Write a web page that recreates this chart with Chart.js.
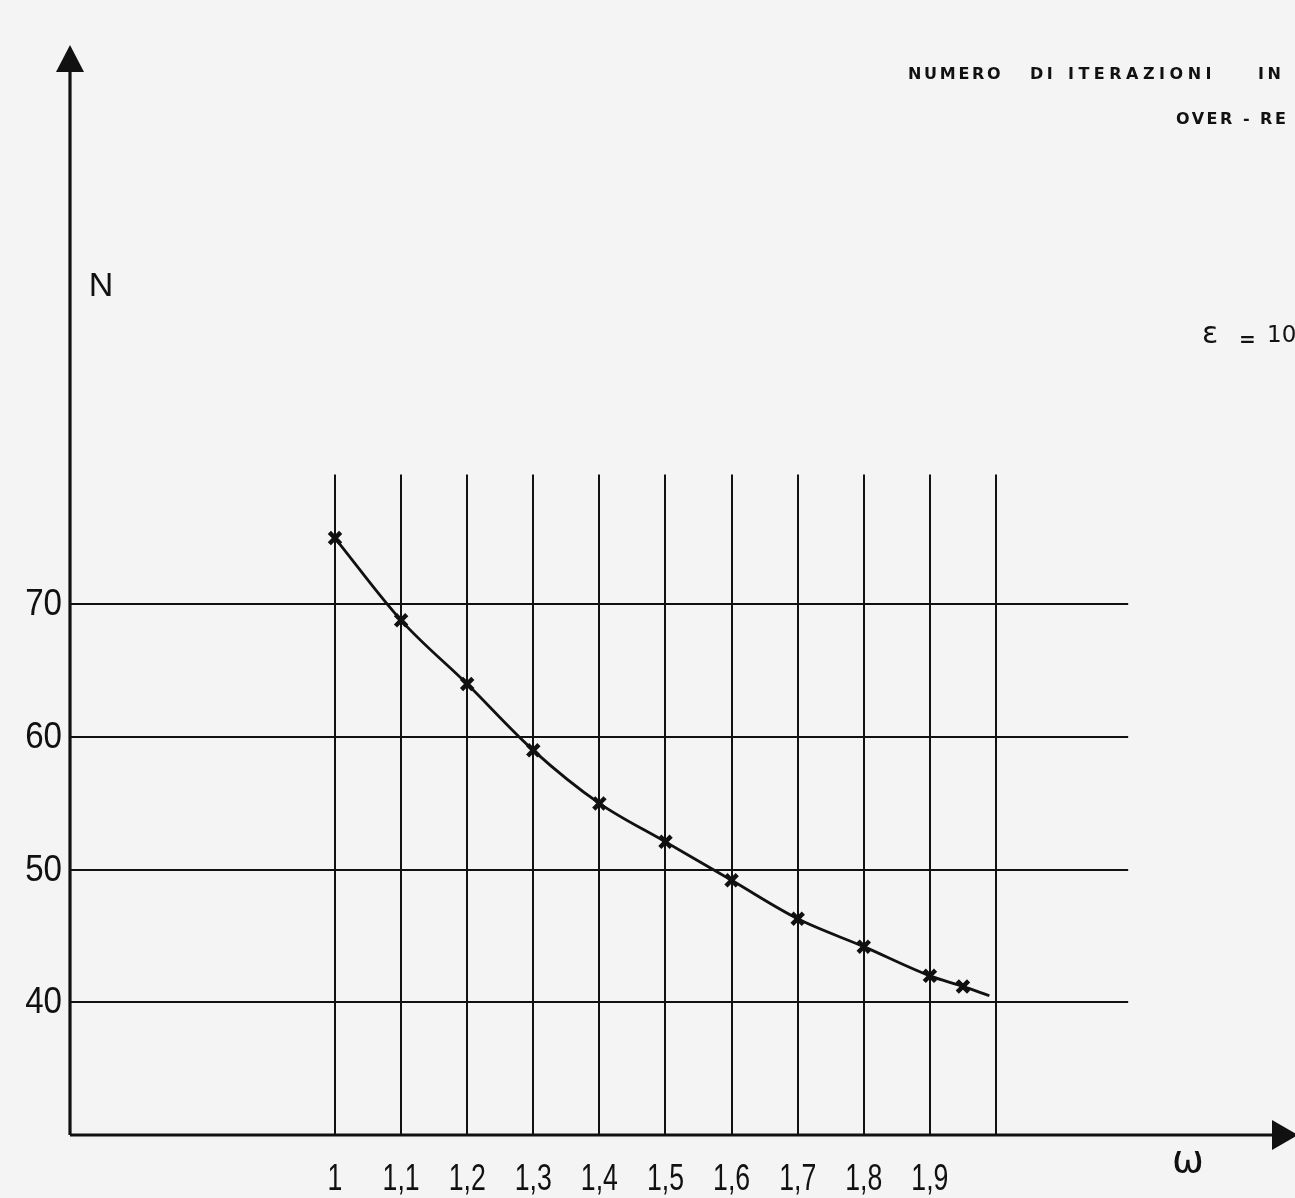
<!DOCTYPE html>
<html><head><meta charset="utf-8">
<script src="https://cdn.jsdelivr.net/npm/chart.js@4.4.0/dist/chart.umd.min.js"></script>
<style>
html,body{margin:0;padding:0;background:#f4f4f4;overflow:hidden;}
#wrap{position:relative;width:1295px;height:1198px;overflow:hidden;background:#f4f4f4;}
canvas{position:absolute;left:0;top:0;}
.note{position:absolute;white-space:nowrap;font-family:"DejaVu Sans",sans-serif;font-weight:bold;color:#111;line-height:1;font-size:16px;}
.eps{position:absolute;white-space:nowrap;font-family:"DejaVu Sans",sans-serif;color:#111;line-height:1;}
</style></head><body>
<div id="wrap">
<canvas id="c" width="1295" height="1198"></canvas>
<div class="note" style="left:908px;top:66px;letter-spacing:2.7px;">NUMERO</div>
<div class="note" style="left:1030px;top:66px;letter-spacing:3.5px;">DI</div>
<div class="note" style="left:1068px;top:66px;letter-spacing:4.5px;">ITERAZIONI</div>
<div class="note" style="left:1258px;top:66px;letter-spacing:3.5px;">IN</div>
<div class="note" style="left:1176px;top:111px;letter-spacing:2.5px;">OVER - RE</div>
<div class="eps" style="left:1202px;top:318px;font-size:30px;">ε</div>
<div class="eps" style="left:1239px;top:329px;font-size:20px;font-weight:bold;">=</div>
<div class="eps" style="left:1267px;top:323px;font-size:23px;">10</div>
</div>
<script>
// ---- data ----
const omegaValues = [1.0, 1.1, 1.2, 1.3, 1.4, 1.5, 1.6, 1.7, 1.8, 1.9, 1.95, 1.99];
const nValues     = [75, 68.8, 64, 59, 55, 52.1, 49.2, 46.3, 44.2, 42, 41.2, 40.5];
const markerShown = [true, true, true, true, true, true, true, true, true, true, true, false];
const xGridValues = [1.0, 1.1, 1.2, 1.3, 1.4, 1.5, 1.6, 1.7, 1.8, 1.9, 2.0];
const xTickValues = [1.0, 1.1, 1.2, 1.3, 1.4, 1.5, 1.6, 1.7, 1.8, 1.9];
const xTickLabels = ["1", "1,1", "1,2", "1,3", "1,4", "1,5", "1,6", "1,7", "1,8", "1,9"];
const yGridValues = [40, 50, 60, 70];
const yTickLabels = ["40", "50", "60", "70"];
const yAxisTitle = "N";
const xAxisTitle = "ω";

// scale ranges
const xMin = 0.5991, xMax = 2.4448, yMin = 30, yMax = 111.8;
const hGridEnd = 2.2;   // horizontal grid lines run to this omega
const vGridTop = 79.8;  // vertical grid lines rise to this N

const ink = '#111111';
const numFont = '36px "Liberation Sans", "DejaVu Sans", sans-serif';

function condensed(ctx, text, x, y, sx) {
  ctx.save(); ctx.translate(x, y); ctx.scale(sx, 1); ctx.fillText(text, 0, 0); ctx.restore();
}

const drawPaper = {
  id: 'drawPaper',
  beforeDatasetsDraw(chart) {
    const ctx = chart.ctx, xs = chart.scales.x, ys = chart.scales.y;
    const x0 = xs.getPixelForValue(xMin), y0 = ys.getPixelForValue(yMin);
    ctx.save();
    ctx.strokeStyle = ink;
    ctx.lineCap = 'butt';
    // grid
    ctx.lineWidth = 2;
    yGridValues.forEach(v => {
      const py = Math.round(ys.getPixelForValue(v));
      ctx.beginPath(); ctx.moveTo(x0, py); ctx.lineTo(xs.getPixelForValue(hGridEnd), py); ctx.stroke();
    });
    xGridValues.forEach(v => {
      const px = Math.round(xs.getPixelForValue(v));
      ctx.beginPath(); ctx.moveTo(px, ys.getPixelForValue(vGridTop)); ctx.lineTo(px, y0); ctx.stroke();
    });
    // axes
    ctx.lineWidth = 3.2;
    ctx.beginPath(); ctx.moveTo(x0, y0); ctx.lineTo(x0, chart.chartArea.top + 20); ctx.stroke();
    ctx.beginPath(); ctx.moveTo(x0, y0); ctx.lineTo(chart.chartArea.right - 15, y0); ctx.stroke();
    ctx.fillStyle = ink;
    // y arrow
    const top = chart.chartArea.top - 5;
    ctx.beginPath(); ctx.moveTo(x0, top); ctx.lineTo(x0 - 14, top + 27); ctx.lineTo(x0 + 14, top + 27); ctx.closePath(); ctx.fill();
    // x arrow
    const right = chart.chartArea.right + 8;
    ctx.beginPath(); ctx.moveTo(right, y0); ctx.lineTo(right - 26, y0 - 15); ctx.lineTo(right - 26, y0 + 15); ctx.closePath(); ctx.fill();
    // tick labels
    ctx.font = numFont;
    ctx.textAlign = 'center'; ctx.textBaseline = 'alphabetic';
    xTickValues.forEach((v, i) => condensed(ctx, xTickLabels[i], xs.getPixelForValue(v), y0 + 55, 0.74));
    ctx.textAlign = 'right'; ctx.textBaseline = 'middle';
    yGridValues.forEach((v, i) => condensed(ctx, yTickLabels[i], x0 - 8, ys.getPixelForValue(v) + 1, 0.92));
    // axis titles
    ctx.textAlign = 'center';
    ctx.font = '34px "Liberation Sans", sans-serif';
    ctx.fillText(yAxisTitle, x0 + 31, 287);
    ctx.font = '38px "DejaVu Sans", sans-serif';
    ctx.textBaseline = 'alphabetic';
    ctx.fillText(xAxisTitle, chart.chartArea.right - 102, y0 + 37);
    ctx.restore();
  }
};

new Chart(document.getElementById('c'), {
  type: 'line',
  data: {
    datasets: [{
      data: omegaValues.map((x, i) => ({ x: x, y: nValues[i] })),
      borderColor: ink,
      borderWidth: 2.8,
      tension: 0.4,
      cubicInterpolationMode: 'monotone',
      pointStyle: 'crossRot',
      pointRadius: markerShown.map(m => m ? 8 : 0),
      pointBorderWidth: 4.5,
      pointBorderColor: ink,
      pointBackgroundColor: ink,
      fill: false
    }]
  },
  options: {
    responsive: false,
    animation: false,
    layout: { autoPadding: false, padding: { left: 70, right: 5, top: 50, bottom: 63 } },
    plugins: { legend: { display: false }, tooltip: { enabled: false }, title: { display: false } },
    scales: {
      x: { type: 'linear', min: xMin, max: xMax, display: false },
      y: { type: 'linear', min: yMin, max: yMax, display: false }
    }
  },
  plugins: [drawPaper]
});
</script>
</body></html>
